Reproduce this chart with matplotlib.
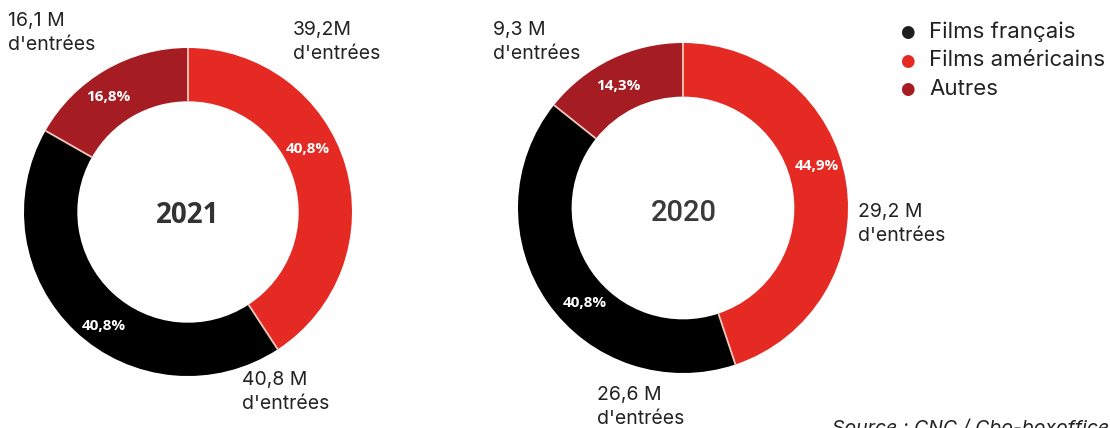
import matplotlib
matplotlib.use("Agg")
import matplotlib.pyplot as plt
import numpy as np

W, H = 1110, 428

# Entrées en salles (millions) : américains, français, autres
categories = ["Films américains", "Films français", "Autres"]
entrees_2021 = [39.2, 40.8, 16.1]
entrees_2020 = [29.2, 26.6, 9.3]
pct_2021 = ["40,8%", "40,8%", "16,8%"]
pct_2020 = ["44,9%", "40,8%", "14,3%"]
labels_2021 = ["39,2M\nd'entrées", "40,8 M\nd'entrées", "16,1 M\nd'entrées"]
labels_2020 = ["29,2 M\nd'entrées", "26,6 M\nd'entrées", "9,3 M\nd'entrées"]
legend_order = ["Films français", "Films américains", "Autres"]

colors = {"Films américains": "#e52a24", "Films français": "#000000", "Autres": "#a51d22"}
legend_colors = {"Films français": "#1e1e1e", "Films américains": "#e52a24", "Autres": "#a51d22"}

plt.rcParams["font.family"] = ["Inter", "DejaVu Sans"]

fig = plt.figure(figsize=(W / 100, H / 100), dpi=100)
fig.patch.set_facecolor("white")

INNER = 0.675


def px(x, y):
    return x / W, 1 - y / H


def donut(cx, cy, r, values):
    ax = fig.add_axes([(cx - r) / W, (H - cy - r) / H, 2 * r / W, 2 * r / H])
    ax.pie(values, colors=[colors[c] for c in categories], startangle=90,
           counterclock=False, radius=1,
           wedgeprops=dict(width=1 - INNER, linewidth=0))
    # fins séparateurs entre les parts
    bounds = np.cumsum([0] + list(values))[:-1] / sum(values)
    for b in bounds:
        a = np.pi / 2 - 2 * np.pi * b
        ax.plot([INNER * np.cos(a), np.cos(a)], [INNER * np.sin(a), np.sin(a)],
                color="#f2c9bd", lw=1.3, solid_capstyle="butt")
    ax.set_xlim(-1, 1)
    ax.set_ylim(-1, 1)
    ax.set_aspect("equal")
    ax.axis("off")
    return ax


donut(188, 212, 164, entrees_2021)
donut(683, 208, 165, entrees_2020)

# Année au centre
fig.text(*px(188, 216), "2021", ha="center", va="center", fontsize=20,
         fontweight="bold", color="#333333", family="Open Sans")
fig.text(*px(684, 213), "2020", ha="center", va="center", fontsize=21,
         fontweight="medium", color="#3a3a3a", family="Roboto")

# Pourcentages dans les anneaux
pct_pos_2021 = [(308, 149), (104, 326), (108, 97)]
pct_pos_2020 = [(817, 166), (585, 303), (618, 86)]
for txt, (x, y) in zip(pct_2021 + pct_2020, pct_pos_2021 + pct_pos_2020):
    fig.text(*px(x, y), txt, ha="center", va="center", fontsize=11,
             fontweight="bold", color="white", family="Open Sans")

# Étiquettes des entrées
lab_pos_2021 = [(293, 30), (242, 380), (8, 21)]
lab_pos_2020 = [(858, 212), (597, 395), (493, 30)]
for txt, (x, y) in zip(labels_2021 + labels_2020, lab_pos_2021 + lab_pos_2020):
    first, second = txt.split("\n")
    fig.text(*px(x, y), first, ha="left", va="center", fontsize=14,
             color="#222222")
    fig.text(*px(x, y + 24), second, ha="left", va="center", fontsize=14,
             color="#222222")

# Légende
for i, name in enumerate(legend_order):
    y = 32 + i * 28.5
    fig.text(*px(907, y), "●", ha="center", va="center", fontsize=12,
             color=legend_colors[name], family="DejaVu Sans")
    fig.text(*px(929, y), name, ha="left", va="center", fontsize=16,
             color="#222222")

fig.text(*px(832, 418), "Source : CNC / Cbo-boxoffice", ha="left", va="top",
         fontsize=14, style="italic", color="#222222")

fig.savefig("out.png", dpi=100)
